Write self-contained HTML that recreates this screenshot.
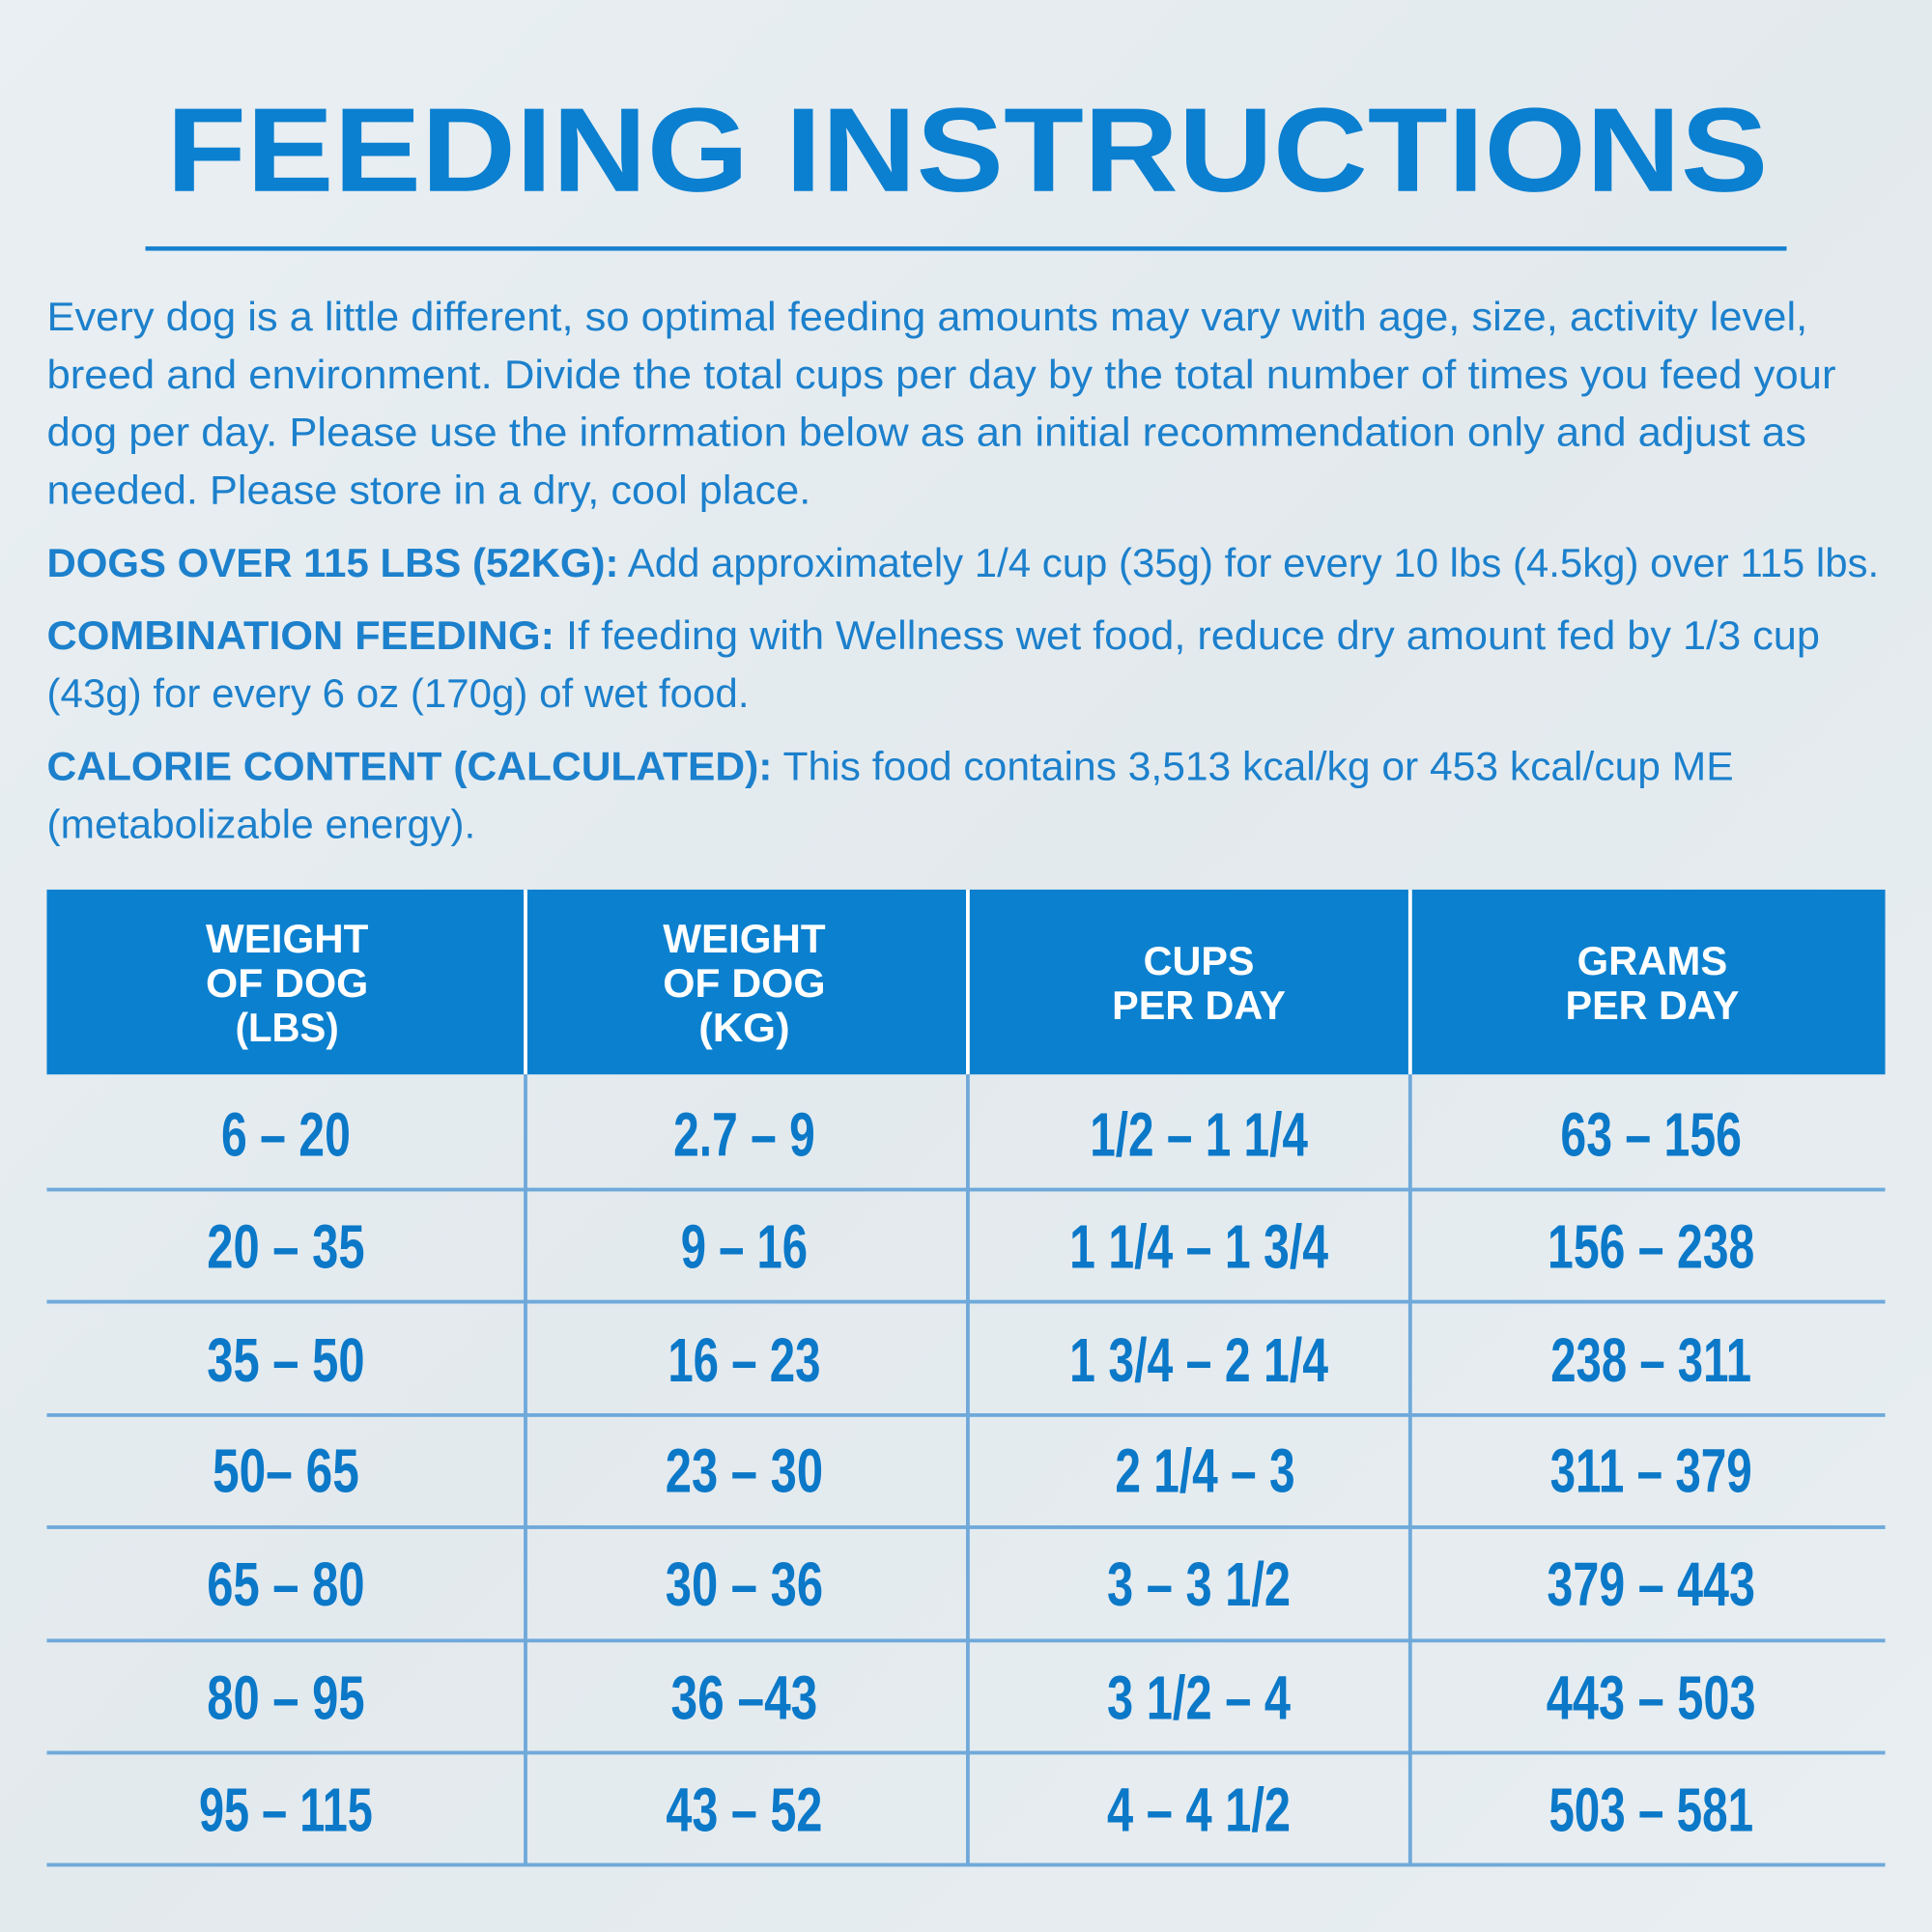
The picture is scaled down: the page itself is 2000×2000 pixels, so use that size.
<!DOCTYPE html>
<html><head><meta charset="utf-8"><style>
html,body{margin:0;padding:0;background:#e5ecf0;}
svg{display:block}
</style></head><body>
<svg width="2000" height="2000" viewBox="0 0 1568 1568" xmlns="http://www.w3.org/2000/svg">
<defs>
<linearGradient id="bg" x1="0" y1="0" x2="1" y2="1">
<stop offset="0" stop-color="#e9eff2"/><stop offset="0.5" stop-color="#e3eaee"/><stop offset="1" stop-color="#e8eef1"/>
</linearGradient>
</defs>
<rect width="1568" height="1568" fill="url(#bg)"/>
<g font-family="Liberation Sans, sans-serif" fill="#0b7fd0">
<text x="135" y="155" font-size="97" font-weight="bold" textLength="1300" lengthAdjust="spacingAndGlyphs">FEEDING INSTRUCTIONS</text>
<rect x="118" y="200" width="1332" height="3.5" fill="#1680cf"/>
<g font-size="33" fill="#1c80cc">
<text x="38" y="268" textLength="1429" lengthAdjust="spacingAndGlyphs">Every dog is a little different, so optimal feeding amounts may vary with age, size, activity level,</text>
<text x="38" y="315" textLength="1452" lengthAdjust="spacingAndGlyphs">breed and environment. Divide the total cups per day by the total number of times you feed your</text>
<text x="38" y="362" textLength="1428" lengthAdjust="spacingAndGlyphs">dog per day. Please use the information below as an initial recommendation only and adjust as</text>
<text x="38" y="409" textLength="620" lengthAdjust="spacingAndGlyphs">needed. Please store in a dry, cool place.</text>
<text x="38" y="468" textLength="1487" lengthAdjust="spacingAndGlyphs"><tspan font-weight="bold">DOGS OVER 115 LBS (52KG):</tspan> Add approximately 1/4 cup (35g) for every 10 lbs (4.5kg) over 115 lbs.</text>
<text x="38" y="527" textLength="1439" lengthAdjust="spacingAndGlyphs"><tspan font-weight="bold">COMBINATION FEEDING:</tspan> If feeding with Wellness wet food, reduce dry amount fed by 1/3 cup</text>
<text x="38" y="574" textLength="570" lengthAdjust="spacingAndGlyphs">(43g) for every 6 oz (170g) of wet food.</text>
<text x="38" y="633" textLength="1369" lengthAdjust="spacingAndGlyphs"><tspan font-weight="bold">CALORIE CONTENT (CALCULATED):</tspan> This food contains 3,513 kcal/kg or 453 kcal/cup ME</text>
<text x="38" y="680" textLength="348" lengthAdjust="spacingAndGlyphs">(metabolizable energy).</text>
</g>
<rect x="38" y="722" width="1492" height="150" fill="#0b80cf"/>
<g fill="#fff" font-size="33" font-weight="bold" text-anchor="middle">
<text x="233" y="773" textLength="132" lengthAdjust="spacingAndGlyphs">WEIGHT</text>
<text x="233" y="809" textLength="132" lengthAdjust="spacingAndGlyphs">OF DOG</text>
<text x="233" y="845" textLength="84" lengthAdjust="spacingAndGlyphs">(LBS)</text>
<text x="604" y="773" textLength="132" lengthAdjust="spacingAndGlyphs">WEIGHT</text>
<text x="604" y="809" textLength="132" lengthAdjust="spacingAndGlyphs">OF DOG</text>
<text x="604" y="845" textLength="74" lengthAdjust="spacingAndGlyphs">(KG)</text>
<text x="973" y="791" textLength="90" lengthAdjust="spacingAndGlyphs">CUPS</text>
<text x="973" y="827" textLength="141" lengthAdjust="spacingAndGlyphs">PER DAY</text>
<text x="1341" y="791" textLength="122" lengthAdjust="spacingAndGlyphs">GRAMS</text>
<text x="1341" y="827" textLength="141" lengthAdjust="spacingAndGlyphs">PER DAY</text>
</g>
<g fill="#fff"><rect x="425" y="722" width="3" height="150"/><rect x="784" y="722" width="3" height="150"/><rect x="1143" y="722" width="3" height="150"/></g>
<g fill="#6fa9da">
<rect x="425" y="872" width="3" height="642"/><rect x="784" y="872" width="3" height="642"/><rect x="1143" y="872" width="3" height="642"/>
<rect x="38" y="964" width="1492" height="3"/><rect x="38" y="1055" width="1492" height="3"/><rect x="38" y="1147" width="1492" height="3"/><rect x="38" y="1238" width="1492" height="3"/><rect x="38" y="1330" width="1492" height="3"/><rect x="38" y="1421" width="1492" height="3"/><rect x="38" y="1512" width="1492" height="3"/>
</g>
<g font-size="50" font-weight="bold" text-anchor="middle" fill="#0b78c8">
<text x="232" y="938" textLength="105" lengthAdjust="spacingAndGlyphs">6 – 20</text>
<text x="604" y="938" textLength="115" lengthAdjust="spacingAndGlyphs">2.7 – 9</text>
<text x="973" y="938" textLength="177" lengthAdjust="spacingAndGlyphs">1/2 – 1 1/4</text>
<text x="1340" y="938" textLength="147" lengthAdjust="spacingAndGlyphs">63 – 156</text>
<text x="232" y="1029" textLength="128" lengthAdjust="spacingAndGlyphs">20 – 35</text>
<text x="604" y="1029" textLength="103" lengthAdjust="spacingAndGlyphs">9 – 16</text>
<text x="973" y="1029" textLength="210" lengthAdjust="spacingAndGlyphs">1 1/4 – 1 3/4</text>
<text x="1340" y="1029" textLength="168" lengthAdjust="spacingAndGlyphs">156 – 238</text>
<text x="232" y="1121" textLength="128" lengthAdjust="spacingAndGlyphs">35 – 50</text>
<text x="604" y="1121" textLength="124" lengthAdjust="spacingAndGlyphs">16 – 23</text>
<text x="973" y="1121" textLength="210" lengthAdjust="spacingAndGlyphs">1 3/4 – 2 1/4</text>
<text x="1340" y="1121" textLength="163" lengthAdjust="spacingAndGlyphs">238 – 311</text>
<text x="232" y="1211" textLength="119" lengthAdjust="spacingAndGlyphs">50– 65</text>
<text x="604" y="1211" textLength="128" lengthAdjust="spacingAndGlyphs">23 – 30</text>
<text x="978" y="1211" textLength="146" lengthAdjust="spacingAndGlyphs">2 1/4 – 3</text>
<text x="1340" y="1211" textLength="164" lengthAdjust="spacingAndGlyphs">311 – 379</text>
<text x="232" y="1303" textLength="128" lengthAdjust="spacingAndGlyphs">65 – 80</text>
<text x="604" y="1303" textLength="128" lengthAdjust="spacingAndGlyphs">30 – 36</text>
<text x="973" y="1303" textLength="149" lengthAdjust="spacingAndGlyphs">3 – 3 1/2</text>
<text x="1340" y="1303" textLength="169" lengthAdjust="spacingAndGlyphs">379 – 443</text>
<text x="232" y="1395" textLength="128" lengthAdjust="spacingAndGlyphs">80 – 95</text>
<text x="604" y="1395" textLength="119" lengthAdjust="spacingAndGlyphs">36 –43</text>
<text x="973" y="1395" textLength="149" lengthAdjust="spacingAndGlyphs">3 1/2 – 4</text>
<text x="1340" y="1395" textLength="170" lengthAdjust="spacingAndGlyphs">443 – 503</text>
<text x="232" y="1486" textLength="141" lengthAdjust="spacingAndGlyphs">95 – 115</text>
<text x="604" y="1486" textLength="127" lengthAdjust="spacingAndGlyphs">43 – 52</text>
<text x="973" y="1486" textLength="149" lengthAdjust="spacingAndGlyphs">4 – 4 1/2</text>
<text x="1340" y="1486" textLength="166" lengthAdjust="spacingAndGlyphs">503 – 581</text>
</g>
</g>
</svg>
</body></html>
